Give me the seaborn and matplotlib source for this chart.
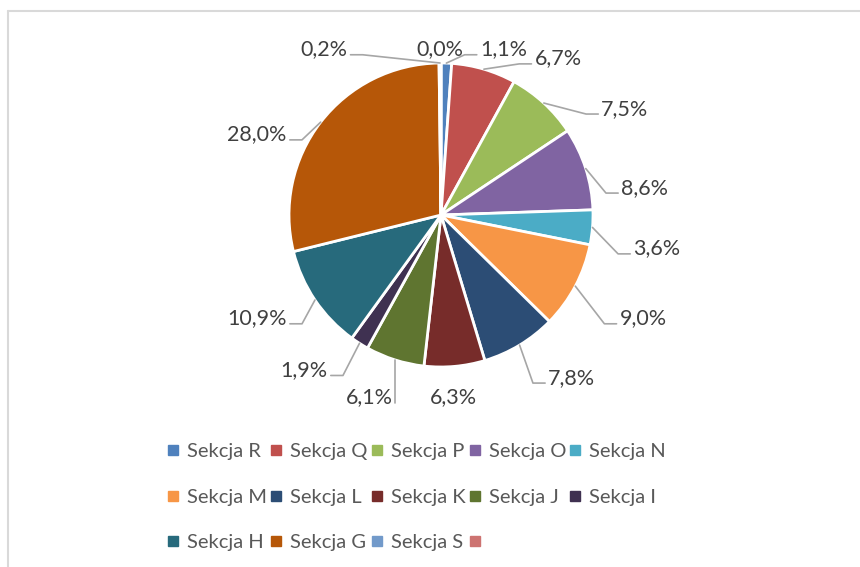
import matplotlib
matplotlib.use("Agg")
import matplotlib.pyplot as plt
import numpy as np
import seaborn as sns
from matplotlib.lines import Line2D

sections = [
    "Sekcja R", "Sekcja Q", "Sekcja P", "Sekcja O", "Sekcja N",
    "Sekcja M", "Sekcja L", "Sekcja K", "Sekcja J", "Sekcja I",
    "Sekcja H", "Sekcja G", "Sekcja S", "",
]
shares = [1.1, 6.7, 7.5, 8.6, 3.6, 9.0, 7.8, 6.3, 6.1, 1.9, 10.9, 28.0, 0.2, 0.0]
colors = [
    "#4F81BD", "#C0504D", "#9BBB59", "#8064A2", "#4BACC6",
    "#F79646", "#2C4D75", "#772C2A", "#5F7530", "#3F3151",
    "#276A7C", "#B65708", "#729ACA", "#CD7371",
]

# where the data labels sit (text centre, in pie radii) and how the leader is drawn
label_xy = [
    (0.41, 1.09), (0.77, 1.03), (1.21, 0.70), (1.34, 0.18), (1.42, -0.22),
    (1.33, -0.68), (0.86, -1.07), (0.08, -1.20), (-0.47, -1.20), (-0.90, -1.02),
    (-1.21, -0.68), (-1.21, 0.53), (-0.77, 1.09), (-0.01, 1.09),
]
leader = ["h", "h", "h", "h", "h", "h", "h", None, "v", "h", "h", "h", "h", None]

sns.set_theme(style="white")
plt.rcParams["font.family"] = ["Lato", "DejaVu Sans"]

W, H = 860, 567
fig = plt.figure(figsize=(W / 100, H / 100), dpi=100)
R = 152
cx, cy = 441, 215
ax = fig.add_axes([(cx - R) / W, (H - cy - R) / H, 2 * R / W, 2 * R / H])

wedges, _ = ax.pie(
    shares,
    colors=colors,
    startangle=90,
    counterclock=False,
    radius=1,
    wedgeprops=dict(edgecolor="white", linewidth=2),
)
ax.set_xlim(-1, 1)
ax.set_ylim(-1, 1)
ax.set_aspect("equal")
ax.axis("off")

texts = []
for s, (lx, ly) in zip(shares, label_xy):
    t = ax.text(lx, ly, f"{s:.1f}%".replace(".", ","), ha="center", va="center",
                fontsize=15.5, color="#404040")
    texts.append(t)

fig.canvas.draw()
rend = fig.canvas.get_renderer()
lc = "#A6A6A6"
for w, t, kind in zip(wedges, texts, leader):
    if kind is None:
        continue
    mid = np.deg2rad((w.theta1 + w.theta2) / 2)
    px, py = np.cos(mid), np.sin(mid)
    bb = t.get_window_extent(rend).transformed(ax.transData.inverted())
    yb = bb.y0 + 0.03
    if kind == "v":
        ax.plot([px, px], [py, yb], color=lc, lw=1.2, clip_on=False)
        continue
    if bb.x0 > px:
        xs = [px, bb.x0 - 0.1, bb.x0 - 0.02]
    else:
        xs = [px, bb.x1 + 0.1, bb.x1 + 0.02]
    ax.plot(xs, [py, yb, yb], color=lc, lw=1.2, clip_on=False)

# legend is filled column by column, so reorder to read row by row
ncol = 5
nrow = int(np.ceil(len(sections) / ncol))
order = [r * ncol + c for c in range(ncol) for r in range(nrow)
         if r * ncol + c < len(sections)]
handles = [Line2D([], [], marker="s", linestyle="", color=colors[i], markersize=7)
           for i in order]
fig.legend(handles, [sections[i] for i in order], loc="upper left", ncol=ncol,
           bbox_to_anchor=(166 / W, 1 - 443 / H), frameon=False,
           fontsize=14.5, labelcolor="#595959", handlelength=0.7,
           handletextpad=0.35, columnspacing=0.1, labelspacing=1.42,
           borderpad=0, borderaxespad=0)

# chart frame (only top and left edges are in view)
fig.add_artist(Line2D([8 / W, 1], [1 - 11 / H] * 2, color="#D9D9D9", lw=1.5))
fig.add_artist(Line2D([8 / W] * 2, [0, 1 - 11 / H], color="#D9D9D9", lw=1.5))

fig.savefig("out.png", dpi=100)
